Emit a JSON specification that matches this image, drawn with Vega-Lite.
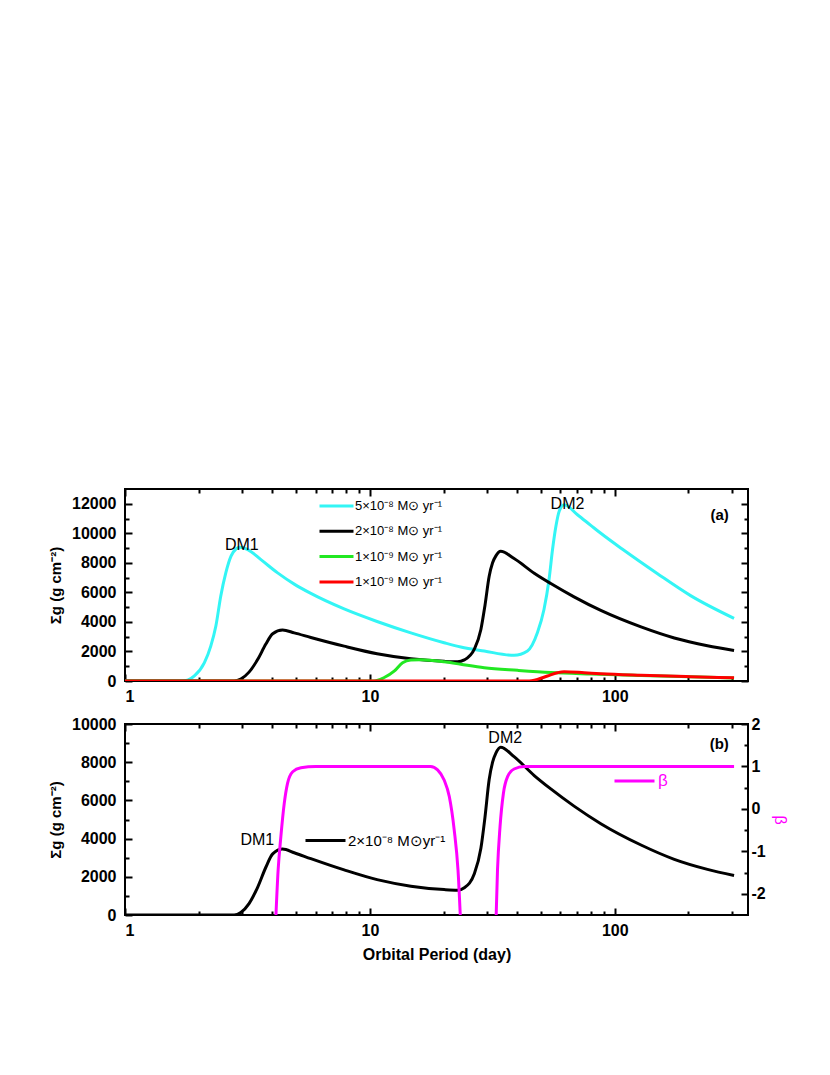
{
  "$schema": "https://vega.github.io/schema/vega-lite/v6.json",
  "padding": {"top": 487, "left": 47, "right": 5, "bottom": 5},
  "spacing": 10,
  "config": {
    "font": "Liberation Sans",
    "view": {"stroke": "black", "strokeWidth": 2},
    "axis": {
      "domain": false, "grid": false,
      "labelFont": "Liberation Sans", "labelFontSize": 16, "labelFontWeight": "bold", "labelColor": "black",
      "tickColor": "black", "tickWidth": 2,
      "titleFont": "Liberation Sans", "titleFontSize": 15, "titleFontWeight": "bold", "titleColor": "black"
    },
    "legend": {"orient": "none", "padding": 0, "rowPadding": 0.3, "labelFont": "Liberation Sans", "labelColor": "black", "symbolStrokeWidth": 3, "clipHeight": 25},
    "text": {"font": "Liberation Sans"}
  },
  "datasets": {
    "sigma": [
      {"P": 1, "S": 0, "s": "5×10⁻⁸ M⊙ yr⁻¹"},
      {"P": 1.7, "S": 0, "s": "5×10⁻⁸ M⊙ yr⁻¹"},
      {"P": 1.8, "S": 60, "s": "5×10⁻⁸ M⊙ yr⁻¹"},
      {"P": 1.92, "S": 340, "s": "5×10⁻⁸ M⊙ yr⁻¹"},
      {"P": 2.11, "S": 1240, "s": "5×10⁻⁸ M⊙ yr⁻¹"},
      {"P": 2.24, "S": 2360, "s": "5×10⁻⁸ M⊙ yr⁻¹"},
      {"P": 2.35, "S": 3720, "s": "5×10⁻⁸ M⊙ yr⁻¹"},
      {"P": 2.46, "S": 5740, "s": "5×10⁻⁸ M⊙ yr⁻¹"},
      {"P": 2.58, "S": 7320, "s": "5×10⁻⁸ M⊙ yr⁻¹"},
      {"P": 2.71, "S": 8450, "s": "5×10⁻⁸ M⊙ yr⁻¹"},
      {"P": 2.84, "S": 8940, "s": "5×10⁻⁸ M⊙ yr⁻¹"},
      {"P": 2.95, "S": 9050, "s": "5×10⁻⁸ M⊙ yr⁻¹"},
      {"P": 3.17, "S": 8900, "s": "5×10⁻⁸ M⊙ yr⁻¹"},
      {"P": 3.59, "S": 8220, "s": "5×10⁻⁸ M⊙ yr⁻¹"},
      {"P": 4.2, "S": 7320, "s": "5×10⁻⁸ M⊙ yr⁻¹"},
      {"P": 4.91, "S": 6560, "s": "5×10⁻⁸ M⊙ yr⁻¹"},
      {"P": 5.74, "S": 5930, "s": "5×10⁻⁸ M⊙ yr⁻¹"},
      {"P": 7.85, "S": 4880, "s": "5×10⁻⁸ M⊙ yr⁻¹"},
      {"P": 10.7, "S": 4030, "s": "5×10⁻⁸ M⊙ yr⁻¹"},
      {"P": 14.7, "S": 3260, "s": "5×10⁻⁸ M⊙ yr⁻¹"},
      {"P": 20.1, "S": 2590, "s": "5×10⁻⁸ M⊙ yr⁻¹"},
      {"P": 23.5, "S": 2300, "s": "5×10⁻⁸ M⊙ yr⁻¹"},
      {"P": 29.3, "S": 2030, "s": "5×10⁻⁸ M⊙ yr⁻¹"},
      {"P": 38.8, "S": 1740, "s": "5×10⁻⁸ M⊙ yr⁻¹"},
      {"P": 44, "S": 2030, "s": "5×10⁻⁸ M⊙ yr⁻¹"},
      {"P": 48.3, "S": 3260, "s": "5×10⁻⁸ M⊙ yr⁻¹"},
      {"P": 51.4, "S": 4840, "s": "5×10⁻⁸ M⊙ yr⁻¹"},
      {"P": 53.9, "S": 6870, "s": "5×10⁻⁸ M⊙ yr⁻¹"},
      {"P": 55.7, "S": 8900, "s": "5×10⁻⁸ M⊙ yr⁻¹"},
      {"P": 57.5, "S": 10470, "s": "5×10⁻⁸ M⊙ yr⁻¹"},
      {"P": 59.3, "S": 11490, "s": "5×10⁻⁸ M⊙ yr⁻¹"},
      {"P": 62.1, "S": 11940, "s": "5×10⁻⁸ M⊙ yr⁻¹"},
      {"P": 70.4, "S": 11260, "s": "5×10⁻⁸ M⊙ yr⁻¹"},
      {"P": 79.8, "S": 10540, "s": "5×10⁻⁸ M⊙ yr⁻¹"},
      {"P": 87.7, "S": 10000, "s": "5×10⁻⁸ M⊙ yr⁻¹"},
      {"P": 109, "S": 8850, "s": "5×10⁻⁸ M⊙ yr⁻¹"},
      {"P": 149, "S": 7280, "s": "5×10⁻⁸ M⊙ yr⁻¹"},
      {"P": 204, "S": 5780, "s": "5×10⁻⁸ M⊙ yr⁻¹"},
      {"P": 307, "S": 4240, "s": "5×10⁻⁸ M⊙ yr⁻¹"},

      {"P": 1, "S": 0, "s": "2×10⁻⁸ M⊙ yr⁻¹"},
      {"P": 2.79, "S": 0, "s": "2×10⁻⁸ M⊙ yr⁻¹"},
      {"P": 2.97, "S": 130, "s": "2×10⁻⁸ M⊙ yr⁻¹"},
      {"P": 3.21, "S": 600, "s": "2×10⁻⁸ M⊙ yr⁻¹"},
      {"P": 3.48, "S": 1450, "s": "2×10⁻⁸ M⊙ yr⁻¹"},
      {"P": 3.76, "S": 2500, "s": "2×10⁻⁸ M⊙ yr⁻¹"},
      {"P": 4.01, "S": 3200, "s": "2×10⁻⁸ M⊙ yr⁻¹"},
      {"P": 4.4, "S": 3450, "s": "2×10⁻⁸ M⊙ yr⁻¹"},
      {"P": 4.91, "S": 3260, "s": "2×10⁻⁸ M⊙ yr⁻¹"},
      {"P": 5.74, "S": 2950, "s": "2×10⁻⁸ M⊙ yr⁻¹"},
      {"P": 7.85, "S": 2360, "s": "2×10⁻⁸ M⊙ yr⁻¹"},
      {"P": 10.7, "S": 1850, "s": "2×10⁻⁸ M⊙ yr⁻¹"},
      {"P": 14.7, "S": 1510, "s": "2×10⁻⁸ M⊙ yr⁻¹"},
      {"P": 20.1, "S": 1330, "s": "2×10⁻⁸ M⊙ yr⁻¹"},
      {"P": 22.8, "S": 1300, "s": "2×10⁻⁸ M⊙ yr⁻¹"},
      {"P": 24.3, "S": 1430, "s": "2×10⁻⁸ M⊙ yr⁻¹"},
      {"P": 26.7, "S": 2160, "s": "2×10⁻⁸ M⊙ yr⁻¹"},
      {"P": 28.4, "S": 3490, "s": "2×10⁻⁸ M⊙ yr⁻¹"},
      {"P": 29.5, "S": 5100, "s": "2×10⁻⁸ M⊙ yr⁻¹"},
      {"P": 30.7, "S": 7090, "s": "2×10⁻⁸ M⊙ yr⁻¹"},
      {"P": 31.7, "S": 8000, "s": "2×10⁻⁸ M⊙ yr⁻¹"},
      {"P": 32.7, "S": 8470, "s": "2×10⁻⁸ M⊙ yr⁻¹"},
      {"P": 34.2, "S": 8780, "s": "2×10⁻⁸ M⊙ yr⁻¹"},
      {"P": 38.8, "S": 8290, "s": "2×10⁻⁸ M⊙ yr⁻¹"},
      {"P": 46.9, "S": 7300, "s": "2×10⁻⁸ M⊙ yr⁻¹"},
      {"P": 54.8, "S": 6600, "s": "2×10⁻⁸ M⊙ yr⁻¹"},
      {"P": 68.2, "S": 5700, "s": "2×10⁻⁸ M⊙ yr⁻¹"},
      {"P": 87.7, "S": 4780, "s": "2×10⁻⁸ M⊙ yr⁻¹"},
      {"P": 128, "S": 3665, "s": "2×10⁻⁸ M⊙ yr⁻¹"},
      {"P": 175, "S": 2916, "s": "2×10⁻⁸ M⊙ yr⁻¹"},
      {"P": 239, "S": 2390, "s": "2×10⁻⁸ M⊙ yr⁻¹"},
      {"P": 307, "S": 2070, "s": "2×10⁻⁸ M⊙ yr⁻¹"},

      {"P": 1, "S": 0, "s": "1×10⁻⁹ M⊙ yr⁻¹"},
      {"P": 10.4, "S": 0, "s": "1×10⁻⁹ M⊙ yr⁻¹"},
      {"P": 11.4, "S": 220, "s": "1×10⁻⁹ M⊙ yr⁻¹"},
      {"P": 12.6, "S": 680, "s": "1×10⁻⁹ M⊙ yr⁻¹"},
      {"P": 13.6, "S": 1240, "s": "1×10⁻⁹ M⊙ yr⁻¹"},
      {"P": 14.7, "S": 1420, "s": "1×10⁻⁹ M⊙ yr⁻¹"},
      {"P": 16.1, "S": 1440, "s": "1×10⁻⁹ M⊙ yr⁻¹"},
      {"P": 20.1, "S": 1300, "s": "1×10⁻⁹ M⊙ yr⁻¹"},
      {"P": 23.5, "S": 1130, "s": "1×10⁻⁹ M⊙ yr⁻¹"},
      {"P": 29.3, "S": 900, "s": "1×10⁻⁹ M⊙ yr⁻¹"},
      {"P": 40.1, "S": 720, "s": "1×10⁻⁹ M⊙ yr⁻¹"},
      {"P": 54.8, "S": 570, "s": "1×10⁻⁹ M⊙ yr⁻¹"},
      {"P": 80, "S": 470, "s": "1×10⁻⁹ M⊙ yr⁻¹"},
      {"P": 128, "S": 370, "s": "1×10⁻⁹ M⊙ yr⁻¹"},
      {"P": 204, "S": 280, "s": "1×10⁻⁹ M⊙ yr⁻¹"},
      {"P": 307, "S": 210, "s": "1×10⁻⁹ M⊙ yr⁻¹"},

      {"P": 1, "S": 0, "s": "1×10⁻⁹ M⊙ yr⁻¹ "},
      {"P": 44, "S": 0, "s": "1×10⁻⁹ M⊙ yr⁻¹ "},
      {"P": 48.3, "S": 110, "s": "1×10⁻⁹ M⊙ yr⁻¹ "},
      {"P": 53.1, "S": 340, "s": "1×10⁻⁹ M⊙ yr⁻¹ "},
      {"P": 58.3, "S": 560, "s": "1×10⁻⁹ M⊙ yr⁻¹ "},
      {"P": 62.1, "S": 630, "s": "1×10⁻⁹ M⊙ yr⁻¹ "},
      {"P": 75, "S": 560, "s": "1×10⁻⁹ M⊙ yr⁻¹ "},
      {"P": 87.7, "S": 490, "s": "1×10⁻⁹ M⊙ yr⁻¹ "},
      {"P": 128, "S": 385, "s": "1×10⁻⁹ M⊙ yr⁻¹ "},
      {"P": 204, "S": 290, "s": "1×10⁻⁹ M⊙ yr⁻¹ "},
      {"P": 307, "S": 220, "s": "1×10⁻⁹ M⊙ yr⁻¹ "}
    ],
    "beta": [
      {"P": 4.10, "B": -3, "seg": 1},
      {"P": 4.22, "B": -1.44, "seg": 1},
      {"P": 4.33, "B": -0.655, "seg": 1},
      {"P": 4.47, "B": 0.13, "seg": 1},
      {"P": 4.61, "B": 0.6, "seg": 1},
      {"P": 4.84, "B": 0.876, "seg": 1},
      {"P": 5.23, "B": 0.97, "seg": 1},
      {"P": 6, "B": 1, "seg": 1},
      {"P": 17.7, "B": 1, "seg": 1},
      {"P": 18.9, "B": 0.92, "seg": 1},
      {"P": 20.1, "B": 0.68, "seg": 1},
      {"P": 21.1, "B": 0.29, "seg": 1},
      {"P": 22.1, "B": -0.5, "seg": 1},
      {"P": 22.9, "B": -1.44, "seg": 1},
      {"P": 23.6, "B": -3, "seg": 1},
      {"P": 32.6, "B": -3, "seg": 2},
      {"P": 33.2, "B": -1.44, "seg": 2},
      {"P": 34.0, "B": -0.42, "seg": 2},
      {"P": 35.1, "B": 0.37, "seg": 2},
      {"P": 36.5, "B": 0.76, "seg": 2},
      {"P": 38.8, "B": 0.94, "seg": 2},
      {"P": 42.7, "B": 1, "seg": 2},
      {"P": 307, "B": 1, "seg": 2}
    ]
  },
  "vconcat": [
    {
      "width": 623, "height": 192,
      "layer": [
        {
          "data": {"name": "sigma"},
          "mark": {"type": "line", "strokeWidth": 3, "interpolate": "monotone", "clip": true},
          "encoding": {
            "x": {"field": "P", "type": "quantitative", "scale": {"type": "log", "domain": [1, 350], "nice": false},
                  "axis": {"orient": "bottom", "values": [1, 10, 100], "format": "d", "tickSize": -7, "labelPadding": 14, "title": null}},
            "y": {"field": "S", "type": "quantitative", "scale": {"domain": [0, 13000], "nice": false},
                  "axis": {"orient": "left", "values": [0, 2000, 4000, 6000, 8000, 10000, 12000], "format": "d", "tickSize": -7, "labelPadding": 16, "title": "Σg (g cm⁻²)", "titlePadding": 8}},
            "color": {"field": "s", "type": "nominal",
                      "scale": {"domain": ["5×10⁻⁸ M⊙ yr⁻¹", "2×10⁻⁸ M⊙ yr⁻¹", "1×10⁻⁹ M⊙ yr⁻¹", "1×10⁻⁹ M⊙ yr⁻¹ "], "range": ["#33F5F5", "#000000", "#22E822", "#FF0000"]},
                      "legend": {"title": null, "legendX": 193, "legendY": 4.5, "symbolType": "stroke", "symbolSize": 1156, "labelFontSize": 13, "labelOffset": 0}}
          }
        },
        {
          "data": {"name": "sigma"},
          "mark": {"type": "line", "opacity": 0, "clip": true},
          "encoding": {
            "x": {"field": "P", "type": "quantitative", "scale": {"type": "log", "domain": [1, 350], "nice": false},
                  "axis": {"orient": "bottom", "values": [2, 3, 4, 5, 6, 7, 8, 9, 20, 30, 40, 50, 60, 70, 80, 90, 200, 300], "labels": false, "tickSize": -4, "title": null}},
            "y": {"field": "S", "type": "quantitative", "scale": {"domain": [0, 13000], "nice": false},
                  "axis": {"orient": "left", "values": [1000, 3000, 5000, 7000, 9000, 11000], "labels": false, "tickSize": -4, "title": null}}
          }
        },
        {
          "data": {"name": "sigma"},
          "mark": {"type": "line", "opacity": 0, "clip": true},
          "encoding": {
            "x": {"field": "P", "type": "quantitative", "scale": {"type": "log", "domain": [1, 350], "nice": false},
                  "axis": {"orient": "top", "values": [1, 10, 100], "labels": false, "tickSize": -7, "title": null}},
            "y": {"field": "S", "type": "quantitative", "scale": {"domain": [0, 13000], "nice": false},
                  "axis": {"orient": "right", "values": [0, 2000, 4000, 6000, 8000, 10000, 12000], "labels": false, "tickSize": -7, "title": null}}
          }
        },
        {
          "data": {"name": "sigma"},
          "mark": {"type": "line", "opacity": 0, "clip": true},
          "encoding": {
            "x": {"field": "P", "type": "quantitative", "scale": {"type": "log", "domain": [1, 350], "nice": false},
                  "axis": {"orient": "top", "values": [2, 3, 4, 5, 6, 7, 8, 9, 20, 30, 40, 50, 60, 70, 80, 90, 200, 300], "labels": false, "tickSize": -4, "title": null}},
            "y": {"field": "S", "type": "quantitative", "scale": {"domain": [0, 13000], "nice": false},
                  "axis": {"orient": "right", "values": [1000, 3000, 5000, 7000, 9000, 11000], "labels": false, "tickSize": -4, "title": null}}
          }
        },
        {
          "data": {"values": [{"P": 3.0, "S": 8900, "t": "DM1"}, {"P": 64.1, "S": 11640, "t": "DM2"}]},
          "mark": {"type": "text", "fontSize": 16, "align": "center", "baseline": "alphabetic", "color": "black"},
          "encoding": {
            "x": {"field": "P", "type": "quantitative", "scale": {"type": "log", "domain": [1, 350], "nice": false}, "axis": null},
            "y": {"field": "S", "type": "quantitative", "scale": {"domain": [0, 13000], "nice": false}, "axis": null},
            "text": {"field": "t"}
          }
        },
        {
          "data": {"values": [{"P": 268, "S": 10900, "t": "(a)"}]},
          "mark": {"type": "text", "fontSize": 15, "fontWeight": "bold", "align": "center", "baseline": "alphabetic", "color": "black"},
          "encoding": {
            "x": {"field": "P", "type": "quantitative", "scale": {"type": "log", "domain": [1, 350], "nice": false}, "axis": null},
            "y": {"field": "S", "type": "quantitative", "scale": {"domain": [0, 13000], "nice": false}, "axis": null},
            "text": {"field": "t"}
          }
        }
      ],
      "resolve": {"axis": {"x": "independent", "y": "independent"}}
    },
    {
      "width": 623, "height": 191,
      "layer": [
        {
          "data": {"name": "sigma"},
          "transform": [{"filter": {"field": "s", "equal": "2×10⁻⁸ M⊙ yr⁻¹"}}],
          "mark": {"type": "line", "strokeWidth": 3, "interpolate": "monotone", "clip": true},
          "encoding": {
            "x": {"field": "P", "type": "quantitative", "scale": {"type": "log", "domain": [1, 350], "nice": false},
                  "axis": {"orient": "bottom", "values": [1, 10, 100], "format": "d", "tickSize": -7, "labelPadding": 14, "title": "Orbital Period (day)", "titleFontSize": 16, "titlePadding": 8}},
            "y": {"field": "S", "type": "quantitative", "scale": {"domain": [0, 10000], "nice": false},
                  "axis": {"orient": "left", "values": [0, 2000, 4000, 6000, 8000, 10000], "format": "d", "tickSize": -7, "labelPadding": 16, "title": "Σg (g cm⁻²)", "titlePadding": 8}},
            "color": {"datum": "2×10⁻⁸ M⊙yr⁻¹", "type": "nominal", "scale": {"range": ["#000000"]},
                      "legend": {"title": null, "legendX": 179, "legendY": 104, "symbolType": "stroke", "symbolSize": 1600, "labelFontSize": 15, "labelOffset": 1}}
          }
        },
        {
          "data": {"name": "sigma"},
          "transform": [{"filter": {"field": "s", "equal": "2×10⁻⁸ M⊙ yr⁻¹"}}],
          "mark": {"type": "line", "opacity": 0, "clip": true},
          "encoding": {
            "x": {"field": "P", "type": "quantitative", "scale": {"type": "log", "domain": [1, 350], "nice": false},
                  "axis": {"orient": "bottom", "values": [2, 3, 4, 5, 6, 7, 8, 9, 20, 30, 40, 50, 60, 70, 80, 90, 200, 300], "labels": false, "tickSize": -4, "title": null}},
            "y": {"field": "S", "type": "quantitative", "scale": {"domain": [0, 10000], "nice": false},
                  "axis": {"orient": "left", "values": [1000, 3000, 5000, 7000, 9000], "labels": false, "tickSize": -4, "title": null}}
          }
        },
        {
          "data": {"name": "sigma"},
          "transform": [{"filter": {"field": "s", "equal": "2×10⁻⁸ M⊙ yr⁻¹"}}],
          "mark": {"type": "line", "opacity": 0, "clip": true},
          "encoding": {
            "x": {"field": "P", "type": "quantitative", "scale": {"type": "log", "domain": [1, 350], "nice": false},
                  "axis": {"orient": "top", "values": [1, 10, 100], "labels": false, "tickSize": -7, "title": null}},
            "y": {"field": "S", "type": "quantitative", "scale": {"domain": [0, 10000], "nice": false}, "axis": null}
          }
        },
        {
          "data": {"name": "sigma"},
          "transform": [{"filter": {"field": "s", "equal": "2×10⁻⁸ M⊙ yr⁻¹"}}],
          "mark": {"type": "line", "opacity": 0, "clip": true},
          "encoding": {
            "x": {"field": "P", "type": "quantitative", "scale": {"type": "log", "domain": [1, 350], "nice": false},
                  "axis": {"orient": "top", "values": [2, 3, 4, 5, 6, 7, 8, 9, 20, 30, 40, 50, 60, 70, 80, 90, 200, 300], "labels": false, "tickSize": -4, "title": null}},
            "y": {"field": "S", "type": "quantitative", "scale": {"domain": [0, 10000], "nice": false}, "axis": null}
          }
        },
        {
          "data": {"name": "beta"},
          "mark": {"type": "line", "strokeWidth": 3, "interpolate": "monotone", "clip": true},
          "encoding": {
            "x": {"field": "P", "type": "quantitative", "scale": {"type": "log", "domain": [1, 350], "nice": false}, "axis": null},
            "y": {"field": "B", "type": "quantitative", "scale": {"domain": [-2.5, 2], "nice": false, "zero": false},
                  "axis": {"orient": "right", "values": [-2, -1, 0, 1, 2], "format": "d", "labelExpr": "replace(datum.label, '−', '-')", "tickSize": -7, "labelPadding": 10, "title": "β", "titleColor": "#FF00FF", "titleFontWeight": "normal", "titleFontSize": 16, "titlePadding": 6}},
            "detail": {"field": "seg", "type": "nominal"},
            "color": {"datum": "β", "type": "nominal", "scale": {"range": ["#FF00FF"]},
                      "legend": {"title": null, "legendX": 488, "legendY": 44.5, "symbolType": "stroke", "symbolSize": 1600, "labelFontSize": 17, "labelOffset": 2, "labelColor": "#FF00FF"}}
          }
        },
        {
          "data": {"name": "beta"},
          "mark": {"type": "line", "opacity": 0, "clip": true},
          "encoding": {
            "x": {"field": "P", "type": "quantitative", "scale": {"type": "log", "domain": [1, 350], "nice": false}, "axis": null},
            "y": {"field": "B", "type": "quantitative", "scale": {"domain": [-2.5, 2], "nice": false, "zero": false},
                  "axis": {"orient": "right", "values": [-1.5, -0.5, 0.5, 1.5], "labels": false, "tickSize": -4, "title": null}},
            "detail": {"field": "seg", "type": "nominal"}
          }
        },
        {
          "data": {"values": [{"P": 3.47, "S": 3665, "t": "DM1"}, {"P": 35.7, "S": 9020, "t": "DM2"}]},
          "mark": {"type": "text", "fontSize": 16, "align": "center", "baseline": "alphabetic", "color": "black"},
          "encoding": {
            "x": {"field": "P", "type": "quantitative", "scale": {"type": "log", "domain": [1, 350], "nice": false}, "axis": null},
            "y": {"field": "S", "type": "quantitative", "scale": {"domain": [0, 10000], "nice": false}, "axis": null},
            "text": {"field": "t"}
          }
        },
        {
          "data": {"values": [{"P": 267, "S": 8675, "t": "(b)"}]},
          "mark": {"type": "text", "fontSize": 15, "fontWeight": "bold", "align": "center", "baseline": "alphabetic", "color": "black"},
          "encoding": {
            "x": {"field": "P", "type": "quantitative", "scale": {"type": "log", "domain": [1, 350], "nice": false}, "axis": null},
            "y": {"field": "S", "type": "quantitative", "scale": {"domain": [0, 10000], "nice": false}, "axis": null},
            "text": {"field": "t"}
          }
        }
      ],
      "resolve": {"scale": {"y": "independent", "color": "independent"}, "axis": {"x": "independent", "y": "independent"}, "legend": {"color": "independent"}}
    }
  ]
}
